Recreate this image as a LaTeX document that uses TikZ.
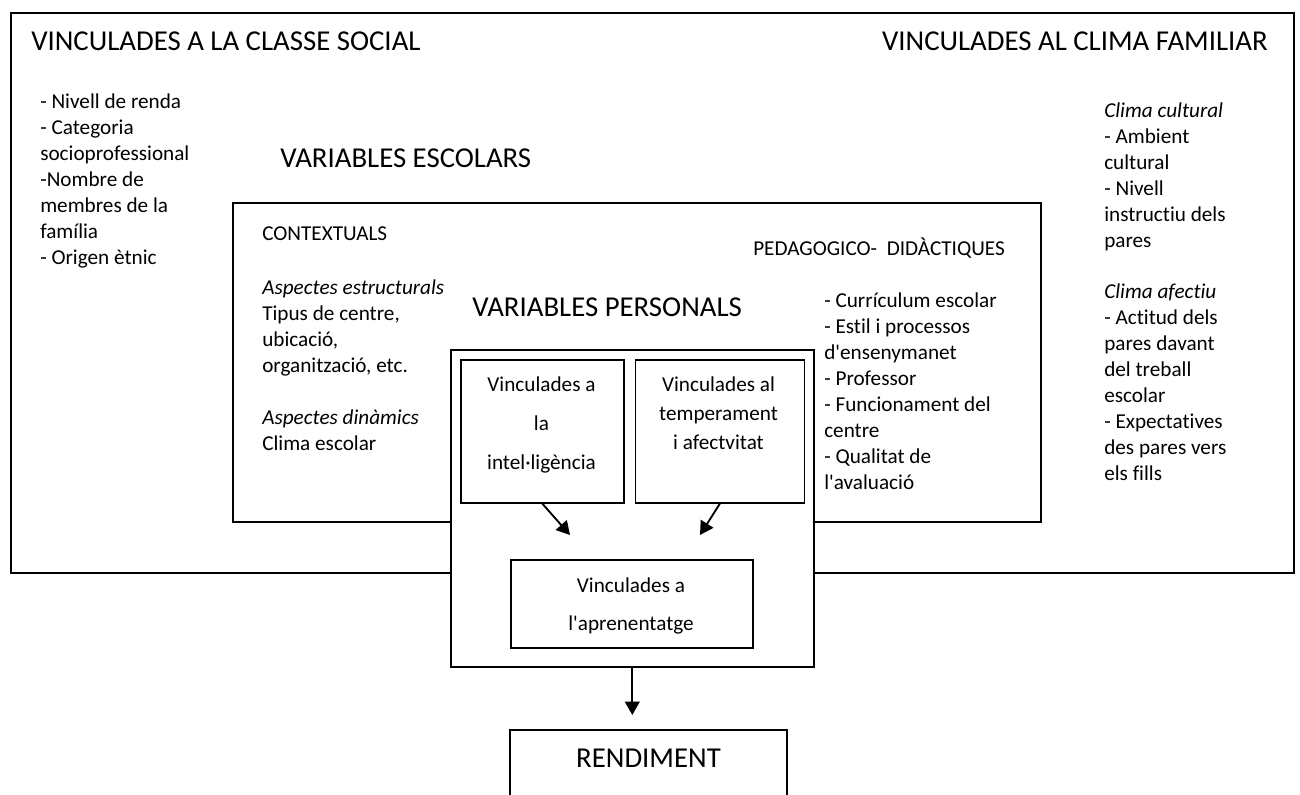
\documentclass[tikz,border=0pt]{standalone}
\usepackage{fontspec}
\setmainfont[Ligatures={TeX,NoCommon}]{Carlito}
\usepackage{tikz}
\usetikzlibrary{arrows.meta}
\usetikzlibrary{positioning}

% one pixel of the layout
\def\pxu{0.75pt}
\newcommand\bodyfont{\fontsize{15.9}{19.4}\selectfont}
\newcommand\headfont{\fontsize{21.6}{26}\selectfont}

\tikzset{
  box/.style={draw, line width=1.2pt, inner sep=0pt, anchor=north west},
  head/.style={font=\headfont, inner sep=0pt, anchor=base west},
  % multi-line texts: placed at the baseline of their last line
  txt/.style={font=\bodyfont, inner sep=0pt, align=left, anchor=base west},
  mid/.style={inner sep=0pt, align=center, anchor=base},
}

\begin{document}
\begin{tikzpicture}[x=0.75pt,y=-0.75pt,->,>={Triangle[length=10pt,width=11pt]},
  every edge/.style={draw, line width=1.4pt}]
 \useasboundingbox (0,0) rectangle (1300,794);

 % outer frame: social class and family climate
 \node[box, minimum width=1283*\pxu, minimum height=560*\pxu] (Entorn) at (10,12) {};
 \node[head] (Social) at (31,50) {VINCULADES A LA CLASSE SOCIAL};
 \node[head, anchor=base east] (Familiar) at (1268,50) {VINCULADES AL CLIMA FAMILIAR};
 \node[txt] (SocialList) at (40,264)
 {- Nivell de renda\\- Categoria\\socioprofessional\\-Nombre de\\membres de la\\família\\- Origen ètnic};
 \node[txt] (FamiliarList) at (1104,480)
 {\textit{Clima cultural}\\- Ambient\\cultural\\- Nivell\\instructiu dels\\pares\\[19.4pt]
  \textit{Clima afectiu}\\- Actitud dels\\pares davant\\del treball\\escolar\\- Expectatives\\des pares vers\\els fills};

 % school variables
 \node[head] (EscolarsTitle) at (280,167) {VARIABLES ESCOLARS};
 \node[box, minimum width=808*\pxu, minimum height=319*\pxu] (Escolars) at (232,202) {};
 \node[txt] (Context) at (262,240) {CONTEXTUALS};
 \node[txt] (ContextList) at (262,450)
 {\textit{Aspectes estructurals}\\Tipus de centre,\\ubicació,\\organització, etc.\\[19.4pt]
  \textit{Aspectes dinàmics}\\Clima escolar};
 \node[txt] (Pedag) at (753,255) {PEDAGOGICO-\ \ DIDÀCTIQUES};
 \node[txt] (PedagList) at (824,489)
 {- Currículum escolar\\- Estil i processos\\d\textquotesingle ensenymanet\\- Professor\\- Funcionament del\\centre\\- Qualitat de\\l\textquotesingle avaluació};

 % personal variables
 \node[head] (PersonalsTitle) at (472,316) {VARIABLES PERSONALS};
 \node[box, fill=white, minimum width=363*\pxu, minimum height=317*\pxu] (Personals) at (450,349) {};
 \node[box, minimum width=163*\pxu, minimum height=143*\pxu] (Intel) at (460,359) {};
 \node[box, minimum width=169*\pxu, minimum height=143*\pxu, right=10*\pxu of Intel] (Temper) {};
 \node[box, minimum width=242*\pxu, minimum height=88*\pxu] (Aprenen) at (510,559) {};
 \node[mid, font=\fontsize{15.9}{28.9}\selectfont] (IntelTxt) at (541.5,469)
 {Vinculades a\\la\\intel·ligència};
 \node[mid, font=\fontsize{15.9}{21.4}\selectfont] (TemperTxt) at (718.5,449)
 {Vinculades al\\temperament\\i afectvitat};
 \node[mid, font=\fontsize{15.9}{28.5}\selectfont] (AprenenTxt) at (631,630)
 {Vinculades a\\l\textquotesingle aprenentatge};

 % result
 \node[draw, line width=1.2pt, font=\headfont, anchor=north, inner sep=0pt,
  minimum width=277*\pxu, text height=28.5pt, text depth=45pt] (Rendiment) at (648.5,729) {RENDIMENT};

 % arrows
 \coordinate (inA) at (570,535);
 \coordinate (inB) at (700,535);
 \path (Intel.south) edge (inA);
 \path (Temper.south) edge (inB);
 \path (Personals.south) edge[shorten >=14*\pxu] (Personals.south |- Rendiment.north);

\end{tikzpicture}
\end{document}
